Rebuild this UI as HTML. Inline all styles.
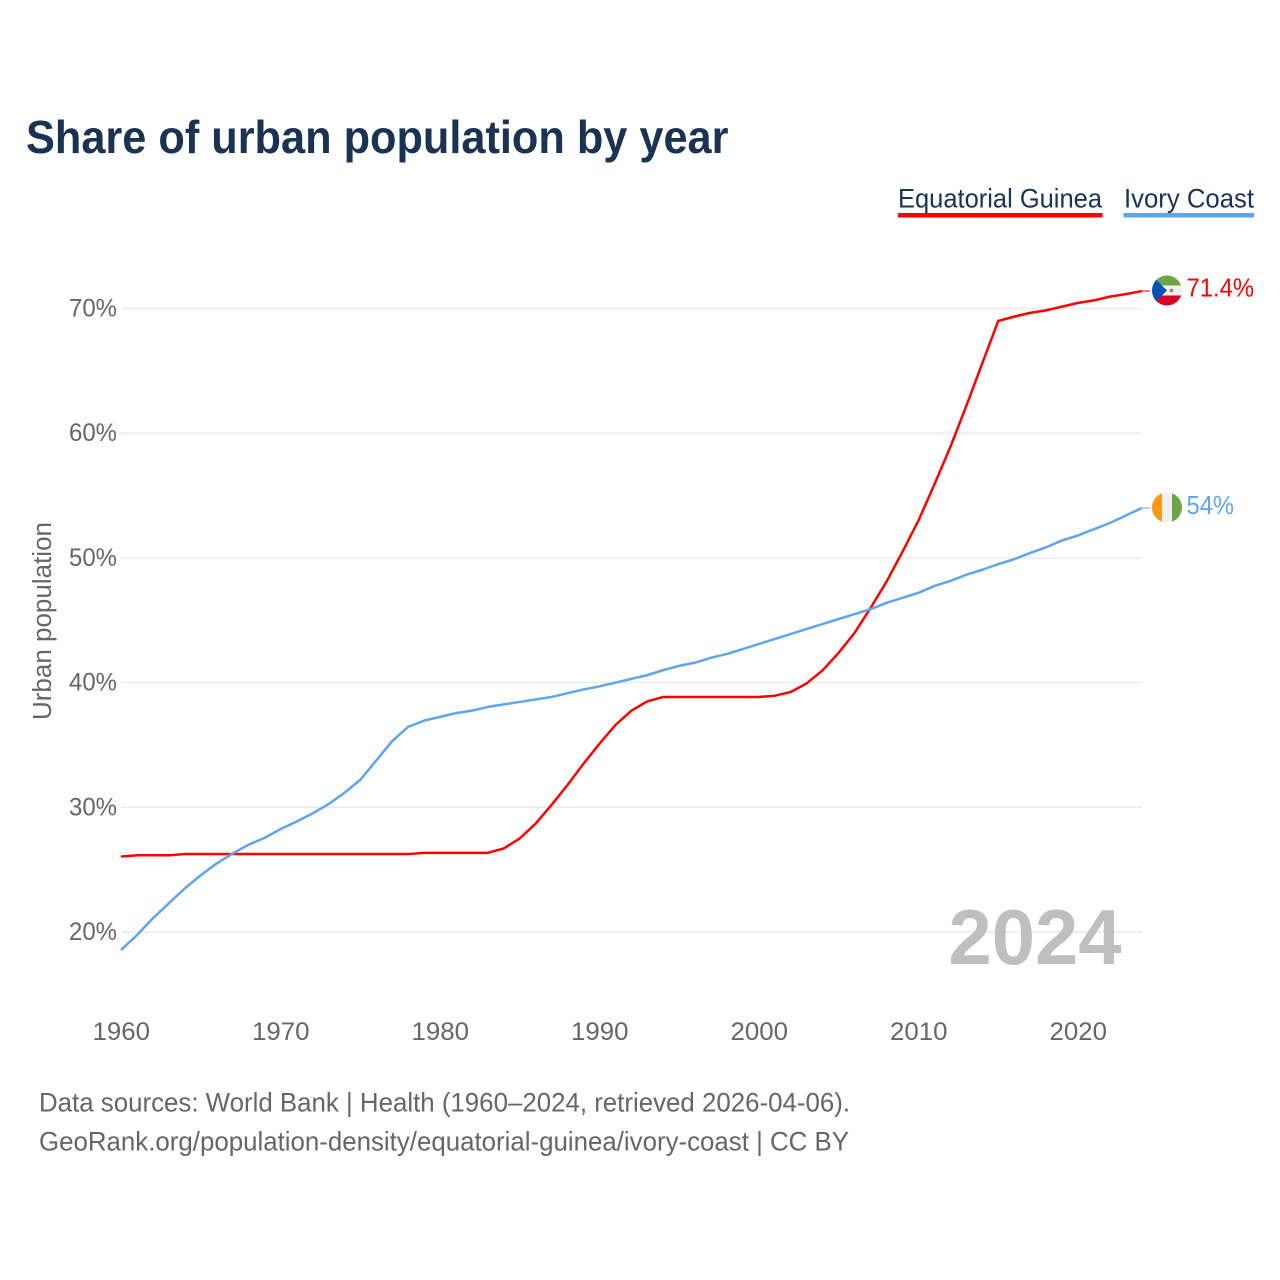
<!DOCTYPE html>
<html lang="en">
<head>
<meta charset="utf-8">
<title>Share of urban population by year</title>
<style>
  html, body { margin: 0; padding: 0; background: #fff; }
  svg { display: block; font-family: "Liberation Sans", sans-serif; }
</style>
</head>
<body>
<svg id="chart" xmlns="http://www.w3.org/2000/svg" width="1280" height="1280" viewBox="0 0 1280 1280">
  <rect x="0" y="0" width="1280" height="1280" fill="#ffffff"/>
  <text x="26" y="153" font-size="46" font-weight="700" fill="#1a3353" textLength="702.5" lengthAdjust="spacingAndGlyphs">Share of urban population by year</text>

  <g>
    <text x="898" y="207.5" font-size="26.5" fill="#1a3353" textLength="204" lengthAdjust="spacingAndGlyphs">Equatorial Guinea</text>
    <rect x="898" y="213" width="204.5" height="4.5" fill="#ff0000"/>
    <text x="1124" y="207.5" font-size="26.5" fill="#1a3353" textLength="130" lengthAdjust="spacingAndGlyphs">Ivory Coast</text>
    <rect x="1123.5" y="213" width="130.5" height="4.5" fill="#60a5ec"/>
  </g>

  <g id="grid"></g>
  <g id="y-axis"></g>
  <g id="x-axis"></g>
  <text transform="translate(51 621) rotate(-90)" text-anchor="middle" font-size="25.5" fill="#666666" textLength="198" lengthAdjust="spacingAndGlyphs">Urban population</text>

  <text x="948.5" y="964" font-size="78" font-weight="700" fill="#bfbfbf" textLength="173" lengthAdjust="spacingAndGlyphs">2024</text>

  <g id="series"></g>

  <defs>
    <clipPath id="flag-clip-gq"><circle cx="1167" cy="290.5" r="15"/></clipPath>
    <clipPath id="flag-clip-ci"><circle cx="1167" cy="507.5" r="15"/></clipPath>
  </defs>
  <g clip-path="url(#flag-clip-gq)">
    <rect x="1152" y="275" width="30" height="31" fill="#f0f0f0"/>
    <rect x="1152" y="275" width="30" height="10.5" fill="#6da544"/>
    <rect x="1152" y="295.5" width="30" height="10.5" fill="#d80027"/>
    <polygon points="1152,275 1156.4,280 1167,290.5 1156.4,301 1152,306" fill="#0052b4"/>
    <circle cx="1171.5" cy="290.5" r="1.6" fill="#6da544" stroke="#a5a5a5" stroke-width="0.8"/>
  </g>
  <g clip-path="url(#flag-clip-ci)">
    <rect x="1152" y="492" width="10" height="31" fill="#ff9811"/>
    <rect x="1162" y="492" width="10" height="31" fill="#f0f0f0"/>
    <rect x="1172" y="492" width="10" height="31" fill="#6da544"/>
  </g>

  <text x="1186.5" y="296.5" font-size="25.5" fill="#ff0000" textLength="67.5" lengthAdjust="spacingAndGlyphs">71.4%</text>
  <text x="1186.5" y="514" font-size="25.5" fill="#60a5ec" textLength="47.5" lengthAdjust="spacingAndGlyphs">54%</text>

  <text x="39" y="1111.5" font-size="26.5" fill="#666666" textLength="811" lengthAdjust="spacingAndGlyphs">Data sources: World Bank | Health (1960–2024, retrieved 2026-04-06).</text>
  <text x="39" y="1150.5" font-size="26.5" fill="#666666" textLength="810" lengthAdjust="spacingAndGlyphs">GeoRank.org/population-density/equatorial-guinea/ivory-coast | CC BY</text>
</svg>

<script>
const startYear = 1960;
const yTickValues = [20, 30, 40, 50, 60, 70];
const yTickLabels = ["20%", "30%", "40%", "50%", "60%", "70%"];
const xTickValues = [1960, 1970, 1980, 1990, 2000, 2010, 2020];
const xTickLabels = ["1960", "1970", "1980", "1990", "2000", "2010", "2020"];
const equatorialGuinea = [
  26.05, 26.15, 26.15, 26.15, 26.25, 26.25, 26.25, 26.25, 26.25, 26.25,
  26.25, 26.25, 26.25, 26.25, 26.25, 26.25, 26.25, 26.25, 26.25, 26.35,
  26.35, 26.35, 26.35, 26.35, 26.7, 27.5, 28.7, 30.2, 31.8, 33.5,
  35.1, 36.6, 37.75, 38.5, 38.85, 38.85, 38.85, 38.85, 38.85, 38.85,
  38.85, 38.95, 39.25, 39.95, 41.0, 42.4, 44.0, 46.0, 48.1, 50.5,
  53.0, 55.9, 58.9, 62.2, 65.6, 69.0, 69.35, 69.65, 69.85, 70.15,
  70.45, 70.65, 70.95, 71.15, 71.4
];
const ivoryCoast = [
  18.55, 19.75, 21.1, 22.3, 23.5, 24.55, 25.5, 26.3, 27.0, 27.55,
  28.25, 28.85, 29.5, 30.25, 31.15, 32.2, 33.75, 35.3, 36.45, 36.95,
  37.25, 37.55, 37.75, 38.05, 38.25, 38.45, 38.65, 38.85, 39.15, 39.45,
  39.7, 40.0, 40.3, 40.6, 41.0, 41.35, 41.6, 42.0, 42.3, 42.7,
  43.1, 43.5, 43.9, 44.3, 44.7, 45.1, 45.5, 45.9, 46.4, 46.8,
  47.2, 47.75, 48.15, 48.65, 49.05, 49.5, 49.9, 50.4, 50.85, 51.4,
  51.8, 52.3, 52.8, 53.4, 54.0
];

const NS = "http://www.w3.org/2000/svg";
function xScale(year) { return 121 + (year - 1960) * 15.95; }
function yScale(value) { return 932 - (value - 20) * 12.47; }

const gridGroup = document.getElementById("grid");
const yAxisGroup = document.getElementById("y-axis");
const xAxisGroup = document.getElementById("x-axis");
const seriesGroup = document.getElementById("series");

yTickValues.forEach(function (value, i) {
  const line = document.createElementNS(NS, "line");
  
  
  line.setAttribute("x1", 121);
  line.setAttribute("x2", 1142);
  line.setAttribute("y1", yScale(value));
  line.setAttribute("y2", yScale(value));
  line.setAttribute("stroke", "#e9e9e9");
  line.setAttribute("stroke-width", "1.4");
  gridGroup.appendChild(line);

  const label = document.createElementNS(NS, "text");
  
  
  label.setAttribute("x", 69);
  label.setAttribute("y", yScale(value) + 8);
  label.setAttribute("font-size", "25");
  label.setAttribute("fill", "#666666");
  label.setAttribute("textLength", "48");
  label.setAttribute("lengthAdjust", "spacingAndGlyphs");
  label.textContent = yTickLabels[i];
  yAxisGroup.appendChild(label);
});

xTickValues.forEach(function (year, i) {
  const label = document.createElementNS(NS, "text");
  
  
  label.setAttribute("x", xScale(year) - 28.5);
  label.setAttribute("y", 1040);
  label.setAttribute("font-size", "25");
  label.setAttribute("fill", "#666666");
  label.setAttribute("textLength", "57.5");
  label.setAttribute("lengthAdjust", "spacingAndGlyphs");
  label.textContent = xTickLabels[i];
  xAxisGroup.appendChild(label);
});

function linePoints(values) {
  return values.map(function (value, i) {
    return xScale(startYear + i).toFixed(2) + "," + yScale(value).toFixed(2);
  }).join(" ");
}

function lastY(values) { return yScale(values[values.length - 1]); }

const redLine = document.createElementNS(NS, "polyline");


redLine.setAttribute("points", linePoints(equatorialGuinea));
redLine.setAttribute("fill", "none");
redLine.setAttribute("stroke", "#ff0000");
redLine.setAttribute("stroke-width", "2.5");
redLine.setAttribute("stroke-linejoin", "round");
seriesGroup.appendChild(redLine);

const blueLine = document.createElementNS(NS, "polyline");


blueLine.setAttribute("points", linePoints(ivoryCoast));
blueLine.setAttribute("fill", "none");
blueLine.setAttribute("stroke", "#60a5ec");
blueLine.setAttribute("stroke-width", "2.5");
blueLine.setAttribute("stroke-linejoin", "round");
seriesGroup.appendChild(blueLine);

const redLeader = document.createElementNS(NS, "line");


redLeader.setAttribute("x1", xScale(2024));
redLeader.setAttribute("x2", 1150);
redLeader.setAttribute("y1", lastY(equatorialGuinea));
redLeader.setAttribute("y2", lastY(equatorialGuinea));
redLeader.setAttribute("stroke", "#ff0000");
redLeader.setAttribute("stroke-width", "1");
seriesGroup.appendChild(redLeader);

const blueLeader = document.createElementNS(NS, "line");


blueLeader.setAttribute("x1", xScale(2024));
blueLeader.setAttribute("x2", 1150);
blueLeader.setAttribute("y1", lastY(ivoryCoast));
blueLeader.setAttribute("y2", lastY(ivoryCoast));
blueLeader.setAttribute("stroke", "#60a5ec");
blueLeader.setAttribute("stroke-width", "1");
seriesGroup.appendChild(blueLeader);
</script>
</body>
</html>
